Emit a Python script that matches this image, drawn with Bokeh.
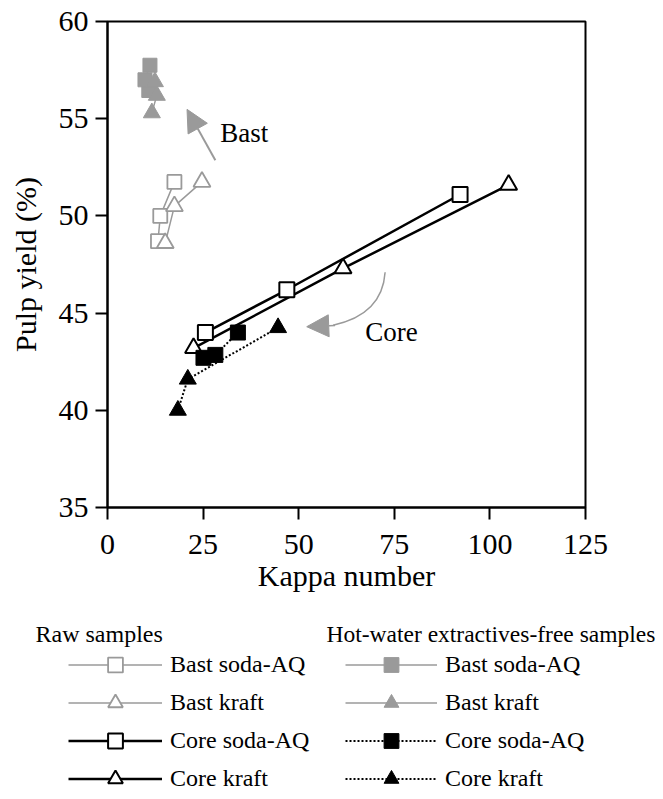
from bokeh.plotting import figure
from bokeh.models import Range1d, Legend, LegendItem, Label, Arrow, NormalHead, FixedTicker
from bokeh.embed import file_html
from bokeh.resources import INLINE

# ---------------- data ----------------
bast_soda_raw_x = [13.2, 13.8, 17.5]
bast_soda_raw_y = [48.7, 50.0, 51.75]
bast_kraft_raw_x = [15.1, 17.5, 24.7]
bast_kraft_raw_y = [48.6, 50.5, 51.75]
core_soda_raw_x = [25.6, 46.9, 92.2]
core_soda_raw_y = [44.0, 46.2, 51.1]
core_kraft_raw_x = [22.5, 61.6, 104.9]
core_kraft_raw_y = [43.2, 47.3, 51.6]

bast_soda_hw_x = [10.8, 9.8, 11.1]
bast_soda_hw_y = [56.45, 57.0, 57.75]
bast_kraft_hw_x = [11.6, 12.9, 12.4]
bast_kraft_hw_y = [55.3, 56.2, 56.9]
core_soda_hw_x = [25.1, 28.2, 34.1]
core_soda_hw_y = [42.7, 42.85, 44.0]
core_kraft_hw_x = [18.4, 21.0, 44.6]
core_kraft_hw_y = [40.0, 41.6, 44.25]

x_ticks = [0, 25, 50, 75, 100, 125]
y_ticks = [35, 40, 45, 50, 55, 60]

legend_labels = ["Bast soda-AQ", "Bast kraft", "Core soda-AQ", "Core kraft"]
legend_titles = ["Raw samples", "Hot-water extractives-free samples"]

# annotation anchors (data units)
bast_arrow = dict(x_start=28.2, y_start=52.86, x_end=20.8, y_end=55.48)
core_curve = dict(x0=[72.6], y0=[47.1], cx0=[72.1], cy0=[45.66], cx1=[67.4], cy1=[44.73], x1=[59.0], y1=[44.38])
core_head = dict(x_start=59.5, y_start=44.36, x_end=52.1, y_end=44.3)

SERIF = "Liberation Serif"
GREY = "#9a9a9a"

# styles: (line kwargs, marker kwargs)
STYLES = [
    (dict(line_color=GREY, line_width=1.5),
     dict(marker="square", size=14, fill_color="white", line_color=GREY, line_width=1.8)),
    (dict(line_color=GREY, line_width=1.5),
     dict(marker="triangle", size=17, fill_color="white", line_color=GREY, line_width=1.8)),
    (dict(line_color="black", line_width=2.5),
     dict(marker="square", size=15, fill_color="white", line_color="black", line_width=2)),
    (dict(line_color="black", line_width=2.5),
     dict(marker="triangle", size=17, fill_color="white", line_color="black", line_width=2)),
    (dict(line_color=GREY, line_width=1.5),
     dict(marker="square", size=14, fill_color=GREY, line_color=GREY, line_width=1)),
    (dict(line_color=GREY, line_width=1.5),
     dict(marker="triangle", size=17, fill_color=GREY, line_color=GREY, line_width=1)),
    (dict(line_color="black", line_width=2, line_dash="2 2"),
     dict(marker="square", size=15, fill_color="black", line_color="black", line_width=1)),
    (dict(line_color="black", line_width=2, line_dash="2 2"),
     dict(marker="triangle", size=17, fill_color="black", line_color="black", line_width=1)),
]
SERIES = [
    (bast_soda_raw_x, bast_soda_raw_y), (bast_kraft_raw_x, bast_kraft_raw_y),
    (core_soda_raw_x, core_soda_raw_y), (core_kraft_raw_x, core_kraft_raw_y),
    (bast_soda_hw_x, bast_soda_hw_y), (bast_kraft_hw_x, bast_kraft_hw_y),
    (core_soda_hw_x, core_soda_hw_y), (core_kraft_hw_x, core_kraft_hw_y),
]

# ---------------- main plot ----------------
p = figure(width=663, height=605, x_range=Range1d(0, 125), y_range=Range1d(35, 60),
           output_backend="svg", toolbar_location=None,
           min_border_left=107, min_border_right=78, min_border_top=21, min_border_bottom=98)

p.xgrid.visible = False
p.ygrid.visible = False
p.outline_line_color = "black"
p.outline_line_width = 2
p.border_fill_color = "white"

p.xaxis.ticker = FixedTicker(ticks=x_ticks)
p.yaxis.ticker = FixedTicker(ticks=y_ticks)
for ax in (p.xaxis[0], p.yaxis[0]):
    ax.axis_line_width = 2
    ax.axis_line_color = "black"
    ax.major_tick_line_width = 2
    ax.major_tick_line_color = "black"
    ax.major_tick_out = 12
    ax.major_tick_in = 0
    ax.minor_tick_line_color = None
    ax.major_label_text_font = SERIF
    ax.major_label_text_font_size = "30px"
    ax.major_label_text_color = "black"
    ax.axis_label_text_font = SERIF
    ax.axis_label_text_font_size = "30px"
    ax.axis_label_text_font_style = "normal"
    ax.axis_label_text_color = "black"
p.xaxis.axis_label = "Kappa number"
p.yaxis.axis_label = "Pulp yield (%)"
p.xaxis.major_label_standoff = 15
p.yaxis.major_label_standoff = 7
p.xaxis.axis_label_standoff = 2
p.yaxis.axis_label_standoff = 14

# draw lines first, then markers on top
order = [0, 1, 4, 5, 2, 3, 6, 7]
for i in order:
    xs, ys = SERIES[i]
    p.line(xs, ys, **STYLES[i][0])
for i in order:
    xs, ys = SERIES[i]
    p.scatter(xs, ys, **STYLES[i][1])

# annotations
p.add_layout(Arrow(end=NormalHead(size=22, fill_color=GREY, line_color=GREY, line_width=1),
                   line_color=GREY, line_width=2, **bast_arrow))
p.bezier(line_color=GREY, line_width=1.5, **core_curve)
p.add_layout(Arrow(end=NormalHead(size=22, fill_color=GREY, line_color=GREY, line_width=1),
                   line_color=GREY, line_width=1.5, **core_head))
p.add_layout(Label(x=29.5, y=54.25, text="Bast", text_font=SERIF, text_font_size="27px",
                   text_baseline="middle", text_color="black"))
p.add_layout(Label(x=67.4, y=44.03, text="Core", text_font=SERIF, text_font_size="27px",
                   text_baseline="middle", text_color="black"))

# ---------------- legend panel (separate root below) ----------------
LH = 194
q = figure(width=663, height=LH, x_range=Range1d(0, 663), y_range=Range1d(0, LH),
           output_backend="svg", toolbar_location=None, min_border=0,
           x_axis_type=None, y_axis_type=None)
q.xgrid.visible = False
q.ygrid.visible = False
q.outline_line_color = None

# legend proxies: drawn off-canvas, only their legend swatches are visible
off_x = [-1000, -990]
off_y = [-1000, -1000]
proxies = []
for i in range(8):
    lr = q.line(off_x, off_y, **STYLES[i][0])
    mr = q.scatter(off_x, off_y, **STYLES[i][1])
    proxies.append([lr, mr])

def make_legend(idx, loc, gw):
    return Legend(items=[LegendItem(label=legend_labels[k], renderers=proxies[i]) for k, i in enumerate(idx)],
                  location=loc, glyph_width=gw, glyph_height=37,
                  label_height=24, label_standoff=8, spacing=1, padding=0, margin=0,
                  border_line_color=None, background_fill_alpha=0,
                  label_text_font=SERIF, label_text_font_size="24px", label_text_color="black")

q.add_layout(make_legend([0, 1, 2, 3], (68, 2), 94))
q.add_layout(make_legend([4, 5, 6, 7], (345, 2), 92))
q.add_layout(Label(x=35, y=LH - 28, text=legend_titles[0], text_font=SERIF, text_font_size="24px",
                   text_baseline="middle", text_color="black"))
q.add_layout(Label(x=326, y=LH - 28, text=legend_titles[1], text_font=SERIF,
                   text_font_size="23.5px", text_baseline="middle", text_color="black"))

open("out.html", "w").write(file_html([p, q], INLINE))
